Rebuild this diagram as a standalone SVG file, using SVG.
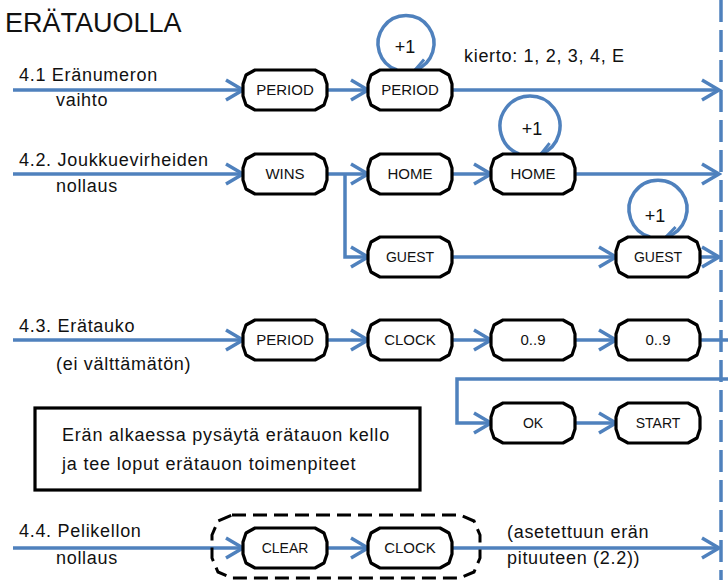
<svg xmlns="http://www.w3.org/2000/svg" xmlns:xlink="http://www.w3.org/1999/xlink" width="728" height="580" viewBox="0 0 728 580">
<style>
.ln{fill:none;stroke:#4f81bd;stroke-width:3.5}
.nd{fill:#fff;stroke:#000;stroke-width:3.2;stroke-linejoin:round}
.t{font-family:"Liberation Sans",Arial,sans-serif;font-size:18px;fill:#111;letter-spacing:0.7px}
.b{font-size:18px;letter-spacing:0.8px}
.n{font-family:"Liberation Sans",Arial,sans-serif;font-size:15px;fill:#111;text-anchor:middle}
.s{font-size:14px}
.p{font-size:18px}
</style>
<defs>
<marker id="ah" markerUnits="userSpaceOnUse" viewBox="0 0 22 24" refX="19" refY="12" markerWidth="22" markerHeight="24" orient="auto">
<path d="M2,2 L19,12 L2,22" fill="none" stroke="#4f81bd" stroke-width="3.5"/>
</marker>
<marker id="ah2" markerUnits="userSpaceOnUse" viewBox="0 0 16 18" refX="14" refY="9" markerWidth="16" markerHeight="18" orient="auto">
<path d="M2,2 L14,9 L2,16" fill="none" stroke="#4f81bd" stroke-width="3"/>
</marker>
<path id="box" d="M12,0 H72 L81,5 L84,14 V26 L81,35 L72,40 H12 L3,35 L0,26 V14 L3,5 Z"/>
</defs>
<rect width="728" height="580" fill="#fff"/>
<text x="5" y="32" font-family="Liberation Sans,Arial,sans-serif" font-size="27" fill="#111">ERÄTAUOLLA</text>
<g id="connectors">
<line x1="721" y1="0" x2="721" y2="580" stroke="#4f81bd" stroke-width="3.5" stroke-dasharray="22 8"/>
<path class="ln" d="M13,90 H243" marker-end="url(#ah)"/>
<path class="ln" d="M327,90 H368" marker-end="url(#ah)"/>
<path class="ln" d="M452,90 H719" marker-end="url(#ah)"/>
<path class="ln" d="M397,70 A28,28 0 1 1 415,70" marker-end="url(#ah2)" stroke-width="3"/>
<path class="ln" d="M13,174 H243" marker-end="url(#ah)"/>
<path class="ln" d="M327,174 H368" marker-end="url(#ah)"/>
<path class="ln" d="M345,174 V257 H368" marker-end="url(#ah)"/>
<path class="ln" d="M452,174 H491" marker-end="url(#ah)"/>
<path class="ln" d="M575,174 H719" marker-end="url(#ah)"/>
<path class="ln" d="M519,154 A30,30 0 1 1 541,154" marker-end="url(#ah2)" stroke-width="3"/>
<path class="ln" d="M452,257 H616" marker-end="url(#ah)"/>
<path class="ln" d="M700,257 H719" marker-end="url(#ah)"/>
<path class="ln" d="M650,237 A29,29 0 1 1 666,237" marker-end="url(#ah2)" stroke-width="3"/>
<path class="ln" d="M13,340 H243" marker-end="url(#ah)"/>
<path class="ln" d="M327,340 H368" marker-end="url(#ah)"/>
<path class="ln" d="M452,340 H491" marker-end="url(#ah)"/>
<path class="ln" d="M575,340 H616" marker-end="url(#ah)"/>
<path class="ln" d="M700,340 H728"/>
<path class="ln" d="M728,379 H457 V423 H491" marker-end="url(#ah)"/>
<path class="ln" d="M575,423 H616" marker-end="url(#ah)"/>
<path class="ln" d="M13,548 H243" marker-end="url(#ah)"/>
<path class="ln" d="M327,548 H368" marker-end="url(#ah)"/>
<path class="ln" d="M452,548 H719" marker-end="url(#ah)"/>
</g>
<g id="labels">
<text class="t" x="19" y="81">4.1 Eränumeron</text>
<text class="t" x="56" y="106">vaihto</text>
<text class="t" x="464" y="62">kierto: 1, 2, 3, 4, E</text>
<text class="t" x="19" y="166">4.2. Joukkuevirheiden</text>
<text class="t" x="56" y="192">nollaus</text>
<text class="t" x="19" y="332">4.3. Erätauko</text>
<text class="t" x="56" y="370">(ei välttämätön)</text>
<text class="t" x="19" y="537">4.4. Pelikellon</text>
<text class="t" x="56" y="564">nollaus</text>
<text class="t" x="507" y="538">(asetettuun erän</text>
<text class="t" x="507" y="564">pituuteen (2.2))</text>
<text class="n p" x="405" y="53">+1</text>
<text class="n p" x="532" y="135">+1</text>
<text class="n p" x="655" y="222">+1</text>
</g>
<g id="note">
<rect x="35" y="408" width="385" height="82" fill="none" stroke="#000" stroke-width="3.2"/>
<text class="t b" x="62" y="441">Erän alkaessa pysäytä erätauon kello</text>
<text class="t b" x="62" y="470">ja tee loput erätauon toimenpiteet</text>
</g>
<g id="group44">
<path d="M232,515 H460 L474,521 L480,535 V558 L474,572 L460,578 H232 L218,572 L212,558 V535 L218,521 Z" fill="none" stroke="#000" stroke-width="3" stroke-dasharray="14 7"/>
</g>
<g id="n1"><use xlink:href="#box" x="243" y="70" class="nd"/><text class="n" x="285" y="95">PERIOD</text></g>
<g id="n2"><use xlink:href="#box" x="368" y="70" class="nd"/><text class="n" x="410" y="95">PERIOD</text></g>
<g id="n3"><use xlink:href="#box" x="243" y="154" class="nd"/><text class="n" x="285" y="179">WINS</text></g>
<g id="n4"><use xlink:href="#box" x="368" y="154" class="nd"/><text class="n" x="410" y="179">HOME</text></g>
<g id="n5"><use xlink:href="#box" x="491" y="154" class="nd"/><text class="n" x="533" y="179">HOME</text></g>
<g id="n6"><use xlink:href="#box" x="368" y="237" class="nd"/><text class="n s" x="410" y="262">GUEST</text></g>
<g id="n7"><use xlink:href="#box" x="616" y="237" class="nd"/><text class="n s" x="658" y="262">GUEST</text></g>
<g id="n8"><use xlink:href="#box" x="243" y="320" class="nd"/><text class="n" x="285" y="345">PERIOD</text></g>
<g id="n9"><use xlink:href="#box" x="368" y="320" class="nd"/><text class="n" x="410" y="345">CLOCK</text></g>
<g id="n10"><use xlink:href="#box" x="491" y="320" class="nd"/><text class="n" x="533" y="345">0..9</text></g>
<g id="n11"><use xlink:href="#box" x="616" y="320" class="nd"/><text class="n" x="658" y="345">0..9</text></g>
<g id="n12"><use xlink:href="#box" x="491" y="403" class="nd"/><text class="n s" x="533" y="428">OK</text></g>
<g id="n13"><use xlink:href="#box" x="616" y="403" class="nd"/><text class="n s" x="658" y="428">START</text></g>
<g id="n14"><use xlink:href="#box" x="243" y="528" class="nd"/><text class="n s" x="285" y="553">CLEAR</text></g>
<g id="n15"><use xlink:href="#box" x="368" y="528" class="nd"/><text class="n" x="410" y="553">CLOCK</text></g>
</svg>
